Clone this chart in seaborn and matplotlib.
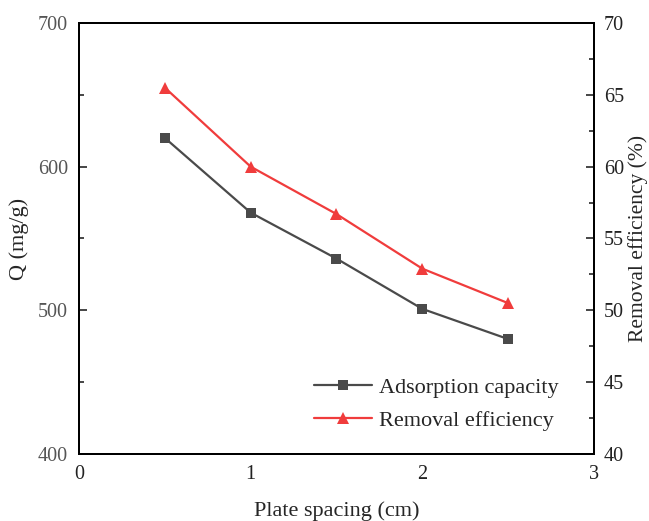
import seaborn as sns
import matplotlib.pyplot as plt
import pandas as pd

sns.set_theme(style="white")
plt.rcParams['font.family'] = ['Liberation Serif', 'DejaVu Serif']
plt.rcParams['mathtext.fontset'] = 'stix'

spacing = [0.5, 1.0, 1.5, 2.0, 2.5]
capacity = [620, 568, 536, 501, 480]
efficiency = [65.5, 60.0, 56.7, 52.9, 50.5]

df = pd.DataFrame({"spacing": spacing, "capacity": capacity, "efficiency": efficiency})

fig = plt.figure(figsize=(6.49, 5.21), dpi=100)
ax = fig.add_axes([0.1217, 0.1286, 0.7935, 0.8273])
ax2 = ax.twinx()

sns.lineplot(data=df, x="spacing", y="capacity", ax=ax, color="#4a4a4a", marker="s",
             markersize=7, markeredgewidth=0, lw=1.6, label="Adsorption capacity", legend=False)
sns.lineplot(data=df, x="spacing", y="efficiency", ax=ax2, color="#f03c3c", marker="^",
             markersize=8, markeredgewidth=0, lw=1.6, label="Removal efficiency", legend=False)

ax.set_xlim(0, 3)
ax.set_ylim(400, 700)
ax2.set_ylim(40, 70)
ax.set_xticks([0, 1, 2, 3])
ax.set_xticks([0.5, 1.5, 2.5], minor=True)
ax.set_yticks([400, 500, 600, 700])
ax.set_yticks([450, 550, 650], minor=True)
ax2.set_yticks([40, 45, 50, 55, 60, 65, 70])
ax2.set_yticks([42.5, 47.5, 52.5, 57.5, 62.5, 67.5], minor=True)

fs = 14.5
ax.set_xlabel("Plate spacing (cm)", fontsize=16, labelpad=12)
ax.set_ylabel("Q (mg/g)", fontsize=16, labelpad=6)
ax2.set_ylabel("Removal efficiency (%)", fontsize=15.5, labelpad=3)

ax.tick_params(axis="x", which="major", direction="in", length=6, width=1.2, labelsize=fs, pad=8,
               labelcolor="#222222", top=False)
ax.tick_params(axis="x", which="minor", direction="in", length=3.5, width=1.2, top=False)
ax.tick_params(axis="y", which="major", direction="in", length=6, width=1.2, labelsize=fs,
               labelcolor="#555555", pad=8, left=True)
ax.tick_params(axis="y", which="minor", direction="in", length=3.5, width=1.2, left=True)
ax2.tick_params(axis="y", which="major", direction="in", length=6, width=1.2, labelsize=fs,
                labelcolor="#222222", pad=7, right=True)
ax2.tick_params(axis="y", which="minor", direction="in", length=3.5, width=1.2, right=True)

for a in (ax, ax2):
    for s in a.spines.values():
        s.set_linewidth(1.4)
        s.set_color("black")

h1, l1 = ax.get_legend_handles_labels()
h2, l2 = ax2.get_legend_handles_labels()
ax2.legend(h1 + h2, l1 + l2, loc="lower right", bbox_to_anchor=(0.97, 0.008), frameon=False,
           fontsize=16, handlelength=2.6, handletextpad=0.3, labelspacing=0.55)

fig.savefig("out.png", dpi=100)
